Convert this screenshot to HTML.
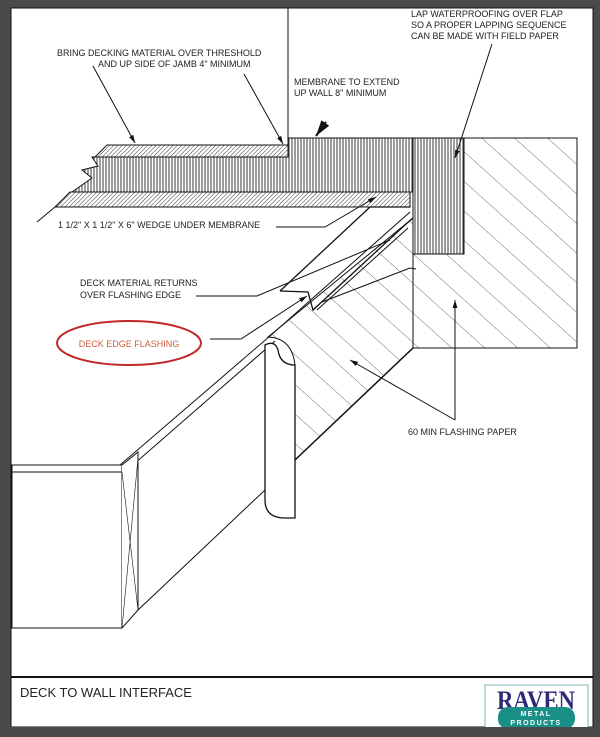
<!DOCTYPE html>
<html><head><meta charset="utf-8"><style>
html,body{margin:0;padding:0;background:#4a4a4a;}
body{width:600px;height:737px;position:relative;overflow:hidden;font-family:"Liberation Sans",sans-serif;}
svg{position:absolute;left:0;top:0}
</style></head><body>
<svg width="600" height="737" viewBox="0 0 600 737" xmlns="http://www.w3.org/2000/svg" font-family="Liberation Sans, sans-serif">
<defs>
<pattern id="vs" width="3" height="10" patternUnits="userSpaceOnUse"><rect width="3" height="10" fill="#fff"/><line x1="1" y1="0" x2="1" y2="10" stroke="#222" stroke-width="0.9"/></pattern>
<pattern id="dh" width="3" height="3" patternUnits="userSpaceOnUse" patternTransform="rotate(45)"><rect width="3" height="3" fill="#fff"/><line x1="0" y1="0" x2="0" y2="3" stroke="#222" stroke-width="0.9"/></pattern>
<pattern id="wd" width="22" height="22" patternUnits="userSpaceOnUse" patternTransform="rotate(42)"><rect width="22" height="22" fill="#fff"/><line x1="0" y1="0" x2="22" y2="0" stroke="#444" stroke-width="0.8"/></pattern>
<marker id="ar" viewBox="0 0 10 10" refX="10" refY="5" markerWidth="8" markerHeight="8" orient="auto"><path d="M0,2 L10,5 L0,8 z" fill="#111"/></marker>
</defs>
<rect x="11" y="8" width="582" height="719" fill="#fff" stroke="#111" stroke-width="1"/>
<line x1="11" y1="677" x2="593" y2="677" stroke="#111" stroke-width="2"/>
<g stroke="#111" fill="none" stroke-width="1">
<rect x="413" y="138" width="164" height="210" fill="url(#wd)"/>
<rect x="413" y="138" width="51" height="116" fill="url(#vs)"/>
<line x1="464" y1="138" x2="464" y2="254"/>
<line x1="288" y1="8" x2="288" y2="140"/>
<path d="M288,138 L413,138 L413,192 L72,192 L92,178 L82,170 L98,166 L92,157 L288,157 Z" fill="url(#vs)"/>
<path d="M107,145 L288,145 L288,157 L95,157 Z" fill="url(#dh)"/>
<path d="M70,192 L410,192 L410,207 L55,207 Z" fill="url(#dh)"/>
<line x1="37" y1="222" x2="55" y2="207"/>
<path d="M295,365 L295,460 L413,348 L413,218 L268,337 Q292,338 295,365 Z" fill="url(#wd)"/>
<line x1="295" y1="460" x2="413" y2="348" stroke-width="1.5"/>
<path d="M280,291 L370,207 L410,207" stroke-width="1.3"/>
<path d="M280,291 L308,292 L313,310 L405,225 L413,218" stroke-width="1.3"/>
<line x1="317" y1="310" x2="408" y2="228"/>
<line x1="120" y1="465" x2="270" y2="336"/>
<line x1="126" y1="471" x2="275" y2="341"/>
<line x1="270" y1="336" x2="410" y2="212"/>
<rect x="12" y="465" width="110" height="163" fill="#fff"/>
<line x1="12" y1="472" x2="122" y2="472"/>
<path d="M122,465 L138,452 L138,610 L122,628" fill="#fff"/>
<path d="M122,472 L138,610 M138,458 L122,628" stroke-width="0.6"/>
<line x1="138" y1="610" x2="265" y2="490"/>
<path d="M265,345 L265,500 Q265,518 285,518 L295,518 L295,365 Q280,365 278,350 Q275,340 265,345 Z" fill="#fff" stroke-width="1.3"/>
<line x1="93" y1="66" x2="135" y2="143" marker-end="url(#ar)"/>
<line x1="244" y1="74" x2="283" y2="144" marker-end="url(#ar)"/>
<line x1="326" y1="122" x2="316" y2="136" marker-end="url(#ar)" stroke-width="2"/>
<line x1="492" y1="44" x2="455" y2="158" marker-end="url(#ar)"/>
<polyline points="276,227 325,227 376,197" marker-end="url(#ar)"/>
<polyline points="196,296 257,296 390,240"/>
<polyline points="210,339 241,339 307,296" marker-end="url(#ar)"/>
<polyline points="416,269 410,268 322,302"/>
<line x1="455" y1="420" x2="455" y2="300" marker-end="url(#ar)"/>
<line x1="455" y1="420" x2="350" y2="360" marker-end="url(#ar)"/>
</g>
<g font-size="9" fill="#222">
<text x="57" y="56">BRING DECKING MATERIAL OVER THRESHOLD</text>
<text x="98" y="67">AND UP SIDE OF JAMB 4" MINIMUM</text>
<text x="294" y="85">MEMBRANE TO EXTEND</text>
<text x="294" y="96">UP WALL 8" MINIMUM</text>
<text x="411" y="17">LAP WATERPROOFING OVER FLAP</text>
<text x="411" y="28">SO A PROPER LAPPING SEQUENCE</text>
<text x="411" y="39">CAN BE MADE WITH FIELD PAPER</text>
<text x="58" y="228">1 1/2" X 1 1/2" X 6" WEDGE UNDER MEMBRANE</text>
<text x="80" y="286">DECK MATERIAL RETURNS</text>
<text x="80" y="298">OVER FLASHING EDGE</text>
<text x="408" y="435">60 MIN FLASHING PAPER</text>
</g>
<ellipse cx="129" cy="343" rx="72" ry="22" fill="none" stroke="#c0282a" stroke-width="2"/>
<text x="129" y="347" font-size="9" fill="#c8603a" text-anchor="middle">DECK EDGE FLASHING</text>
<text x="20" y="697" font-size="13" fill="#222">DECK TO WALL INTERFACE</text>
<rect x="485" y="685" width="103" height="44" fill="#fff" stroke="#7fb5b5" stroke-width="1"/>
<text x="536" y="709" font-family="Liberation Serif, serif" font-weight="bold" font-size="26" fill="#2e2a78" text-anchor="middle" textLength="78" lengthAdjust="spacingAndGlyphs">RAVEN</text>
<rect x="498" y="707" width="77" height="22" rx="10" fill="#1a8f88"/>
<text x="536" y="716" font-size="7" font-weight="bold" fill="#fff" text-anchor="middle" letter-spacing="1.5">METAL</text>
<text x="536" y="725" font-size="7" font-weight="bold" fill="#fff" text-anchor="middle" letter-spacing="1.5">PRODUCTS</text>
<rect x="0" y="727" width="600" height="10" fill="#4a4a4a"/>
</svg>
</body></html>
